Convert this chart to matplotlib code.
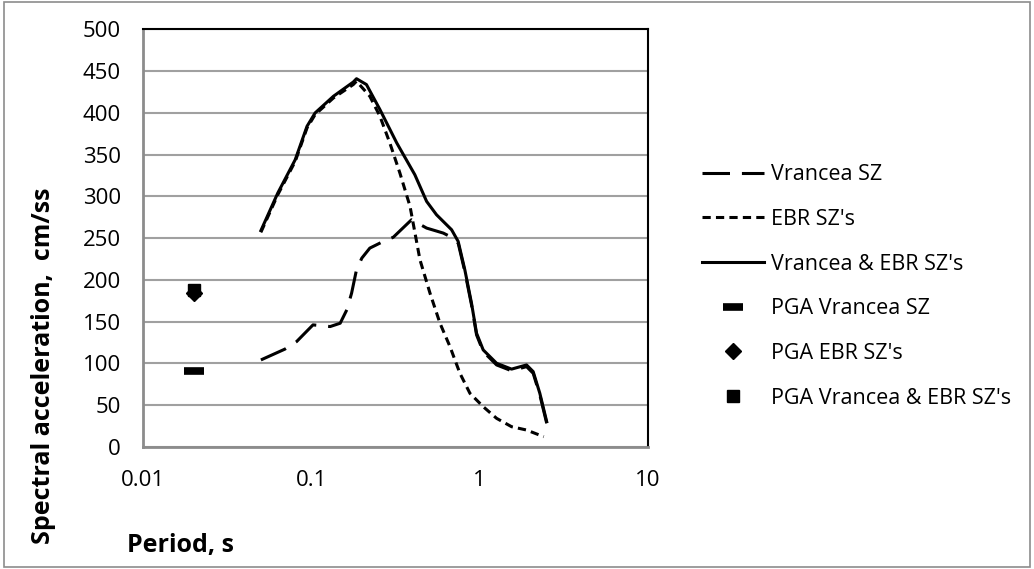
import matplotlib.pyplot as plt

# periods (s) and spectral accelerations (cm/s^2)
periodo_comb = [0.05, 0.063, 0.08, 0.094, 0.105, 0.135, 0.177, 0.185, 0.212, 0.255, 0.321, 0.411,
                0.483, 0.553, 0.68, 0.744, 0.815, 0.893, 0.957, 1.048, 1.259, 1.545, 1.897, 2.077,
                2.275, 2.5]
sa_comb = [259, 304, 344, 384, 400, 420, 437, 441, 434, 404, 364, 326,
           294, 278, 260, 246, 212, 172, 136, 116, 100, 93, 98, 90,
           64, 30]

periodo_ebr = [0.05, 0.063, 0.08, 0.094, 0.105, 0.135, 0.177, 0.185, 0.222, 0.255, 0.292, 0.335,
               0.385, 0.441, 0.506, 0.58, 0.665, 0.762, 0.874, 1.048, 1.259, 1.545, 1.897, 2.4]
sa_ebr = [257, 302, 342, 382, 398, 418, 434, 438, 420, 396, 364, 328,
          288, 224, 184, 148, 120, 88, 64, 48, 34, 24, 20, 12]

periodo_vr = [0.05, 0.0695, 0.0815, 0.102, 0.129, 0.148, 0.162, 0.173, 0.185, 0.199, 0.222, 0.267,
              0.306, 0.393, 0.483, 0.607, 0.695, 0.744, 0.815, 0.893, 0.957, 1.048, 1.259, 1.545,
              1.897, 2.077, 2.275, 2.5]
sa_vr = [104, 117, 126, 146, 144, 148, 164, 184, 212, 226, 238, 246,
         251, 272, 262, 256, 250, 244, 210, 170, 134, 114, 98, 91,
         96, 88, 62, 28]

pga_t = [0.02]
pga_vr = [91]
pga_ebr = [184]
pga_comb = [188]

plt.rcParams['font.family'] = ['Open Sans', 'DejaVu Sans']

fig = plt.figure(figsize=(10.34, 5.69), dpi=100)
ax = fig.add_axes([0.1386, 0.2149, 0.4881, 0.7333])

ax.plot(periodo_vr, sa_vr, color='black', lw=2.2, dashes=(9.0, 3.9), label='Vrancea SZ')
ax.plot(periodo_ebr, sa_ebr, color='black', lw=2.2, dashes=(2.7, 1.7), label="EBR SZ's")
ax.plot(periodo_comb, sa_comb, color='black', lw=2.2, label="Vrancea & EBR SZ's")
ax.plot(pga_t, pga_vr, ls='none', marker='_', ms=14, mew=5.5, color='black', label='PGA Vrancea SZ')
ax.plot(pga_t, pga_ebr, ls='none', marker='D', ms=8, color='black', label="PGA EBR SZ's")
ax.plot(pga_t, pga_comb, ls='none', marker='s', ms=8.5, color='black', label="PGA Vrancea & EBR SZ's")

ax.set_xscale('log')
ax.set_xlim(0.01, 10)
ax.set_ylim(0, 500)
ax.set_yticks(range(0, 501, 50))
ax.set_xticks([0.01, 0.1, 1, 10])
ax.set_xticklabels(['0.01', '0.1', '1', '10'])
ax.minorticks_off()
ax.tick_params(length=0, labelsize=16)
ax.tick_params(axis='x', pad=17)
ax.tick_params(axis='y', pad=16)
ax.grid(axis='y', color='#a0a0a0', lw=1.5)
ax.set_axisbelow(True)
for s in ['left', 'bottom']:
    ax.spines[s].set_color('#8c8c8c')
    ax.spines[s].set_linewidth(2)
for s in ['top', 'right']:
    ax.spines[s].set_color('black')
    ax.spines[s].set_linewidth(1.5)

fig.text(0.0416, 0.358, 'Spectral acceleration,  cm/ss', rotation=90, fontsize=18,
         fontweight='bold', ha='center', va='center')
fig.text(0.1225, 0.042, 'Period, s', fontsize=18, fontweight='bold', ha='left', va='center')

fig.legend(loc='center left', bbox_to_anchor=(0.6786, 0.4965), frameon=False, fontsize=15.5,
           handlelength=2.9, handletextpad=0.32, labelspacing=1.1, borderpad=0, borderaxespad=0)

# light frame around the whole chart
fig.add_artist(plt.Rectangle((0.004, 0.004), 0.992, 0.992, transform=fig.transFigure,
                             fill=False, edgecolor='#8c8c8c', lw=1.2))

fig.savefig('out.png', dpi=100)
